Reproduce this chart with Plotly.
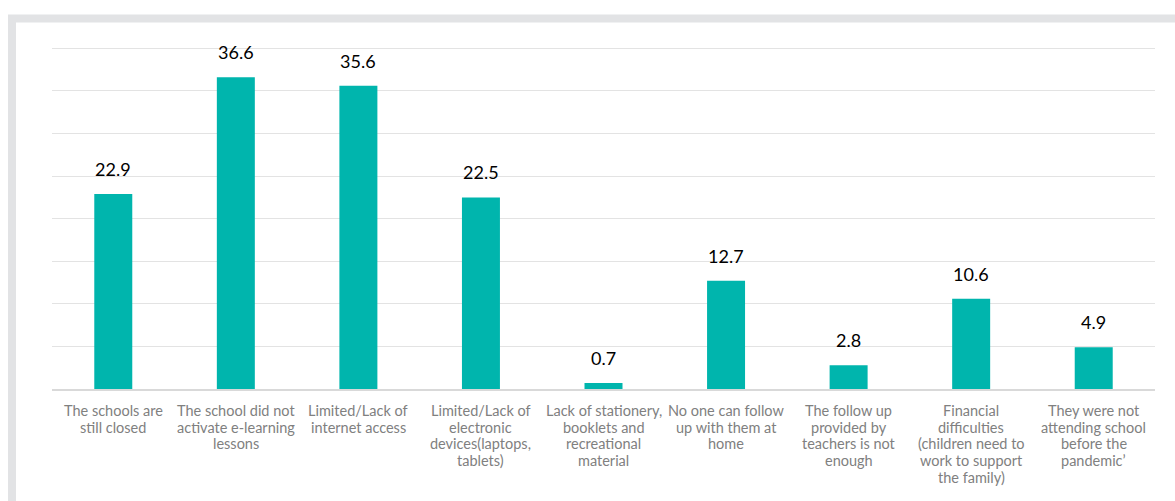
import plotly.graph_objects as go

categories = [
    "The schools are<br>still closed",
    "The school did not<br>activate e-learning<br>lessons",
    "Limited/Lack of<br>internet access",
    "Limited/Lack of<br>electronic<br>devices(laptops,<br>tablets)",
    "Lack of stationery,<br>booklets and<br>recreational<br>material",
    "No one can follow<br>up with them at<br>home",
    "The follow up<br>provided by<br>teachers is not<br>enough",
    "Financial<br>difficulties<br>(children need to<br>work to support<br>the family)",
    "They were not<br>attending school<br>before the<br>pandemic’",
]
values = [22.9, 36.6, 35.6, 22.5, 0.7, 12.7, 2.8, 10.6, 4.9]

W, H = 1175, 501
Y_MAX = 40.4
ML, MR, MB = 52, 20, 112
MT = 48 - (Y_MAX - 40) * 341 / 40
PW, PH = W - ML - MR, H - MT - MB
LINE_H = 16.7      # spacing between wrapped category label lines
FIRST_LINE = 21.5  # distance from baseline to centre of first label line


def px_x(p):
    return (p - ML) / PW


def px_y(p):
    return (H - MB - p) / PH


xs = list(range(len(categories)))

fig = go.Figure(
    go.Bar(
        x=xs,
        y=values,
        marker=dict(color="#00B5AD", line=dict(width=0)),
        width=0.31,
        hoverinfo="x+y",
    )
)

annotations = []
# value labels above bars
for x, v in zip(xs, values):
    annotations.append(
        dict(
            x=x, y=v, xref="x", yref="y",
            text=f"{v:.1f}",
            showarrow=False,
            xanchor="center", yanchor="middle",
            yshift=25,
            font=dict(family="Lato, sans-serif", size=18, color="#000000"),
        )
    )
# wrapped category labels, one annotation per line for tighter spacing
for x, cat in zip(xs, categories):
    for i, line in enumerate(cat.split("<br>")):
        annotations.append(
            dict(
                x=x, y=0, xref="x", yref="paper",
                text=line,
                showarrow=False,
                xanchor="center", yanchor="middle",
                yshift=-(FIRST_LINE + i * LINE_H),
                font=dict(family="Lato, sans-serif", size=14.5, color="#808080"),
            )
        )

fig.update_layout(
    width=W,
    height=H,
    margin=dict(l=ML, r=MR, t=MT, b=MB, pad=0),
    paper_bgcolor="#ffffff",
    plot_bgcolor="#ffffff",
    showlegend=False,
    xaxis=dict(
        tickmode="array",
        tickvals=xs,
        showticklabels=False,
        range=[-0.5, len(categories) - 0.5],
        showgrid=False,
        showline=True,
        linecolor="#d9d9d9",
        linewidth=1.5,
        ticks="",
        zeroline=False,
    ),
    yaxis=dict(
        range=[0, Y_MAX],
        tick0=0,
        dtick=5,
        showticklabels=False,
        showgrid=True,
        gridcolor="#e3e3e3",
        gridwidth=1.3,
        zeroline=False,
        ticks="",
    ),
    annotations=annotations,
    shapes=[
        dict(
            type="rect",
            xref="paper",
            yref="paper",
            x0=px_x(12),
            x1=px_x(W + 40),
            y0=px_y(18),
            y1=px_y(H + 40),
            line=dict(color="#e2e3e5", width=8),
            fillcolor="rgba(0,0,0,0)",
            layer="below",
        )
    ],
)

fig.write_html("out.html")
